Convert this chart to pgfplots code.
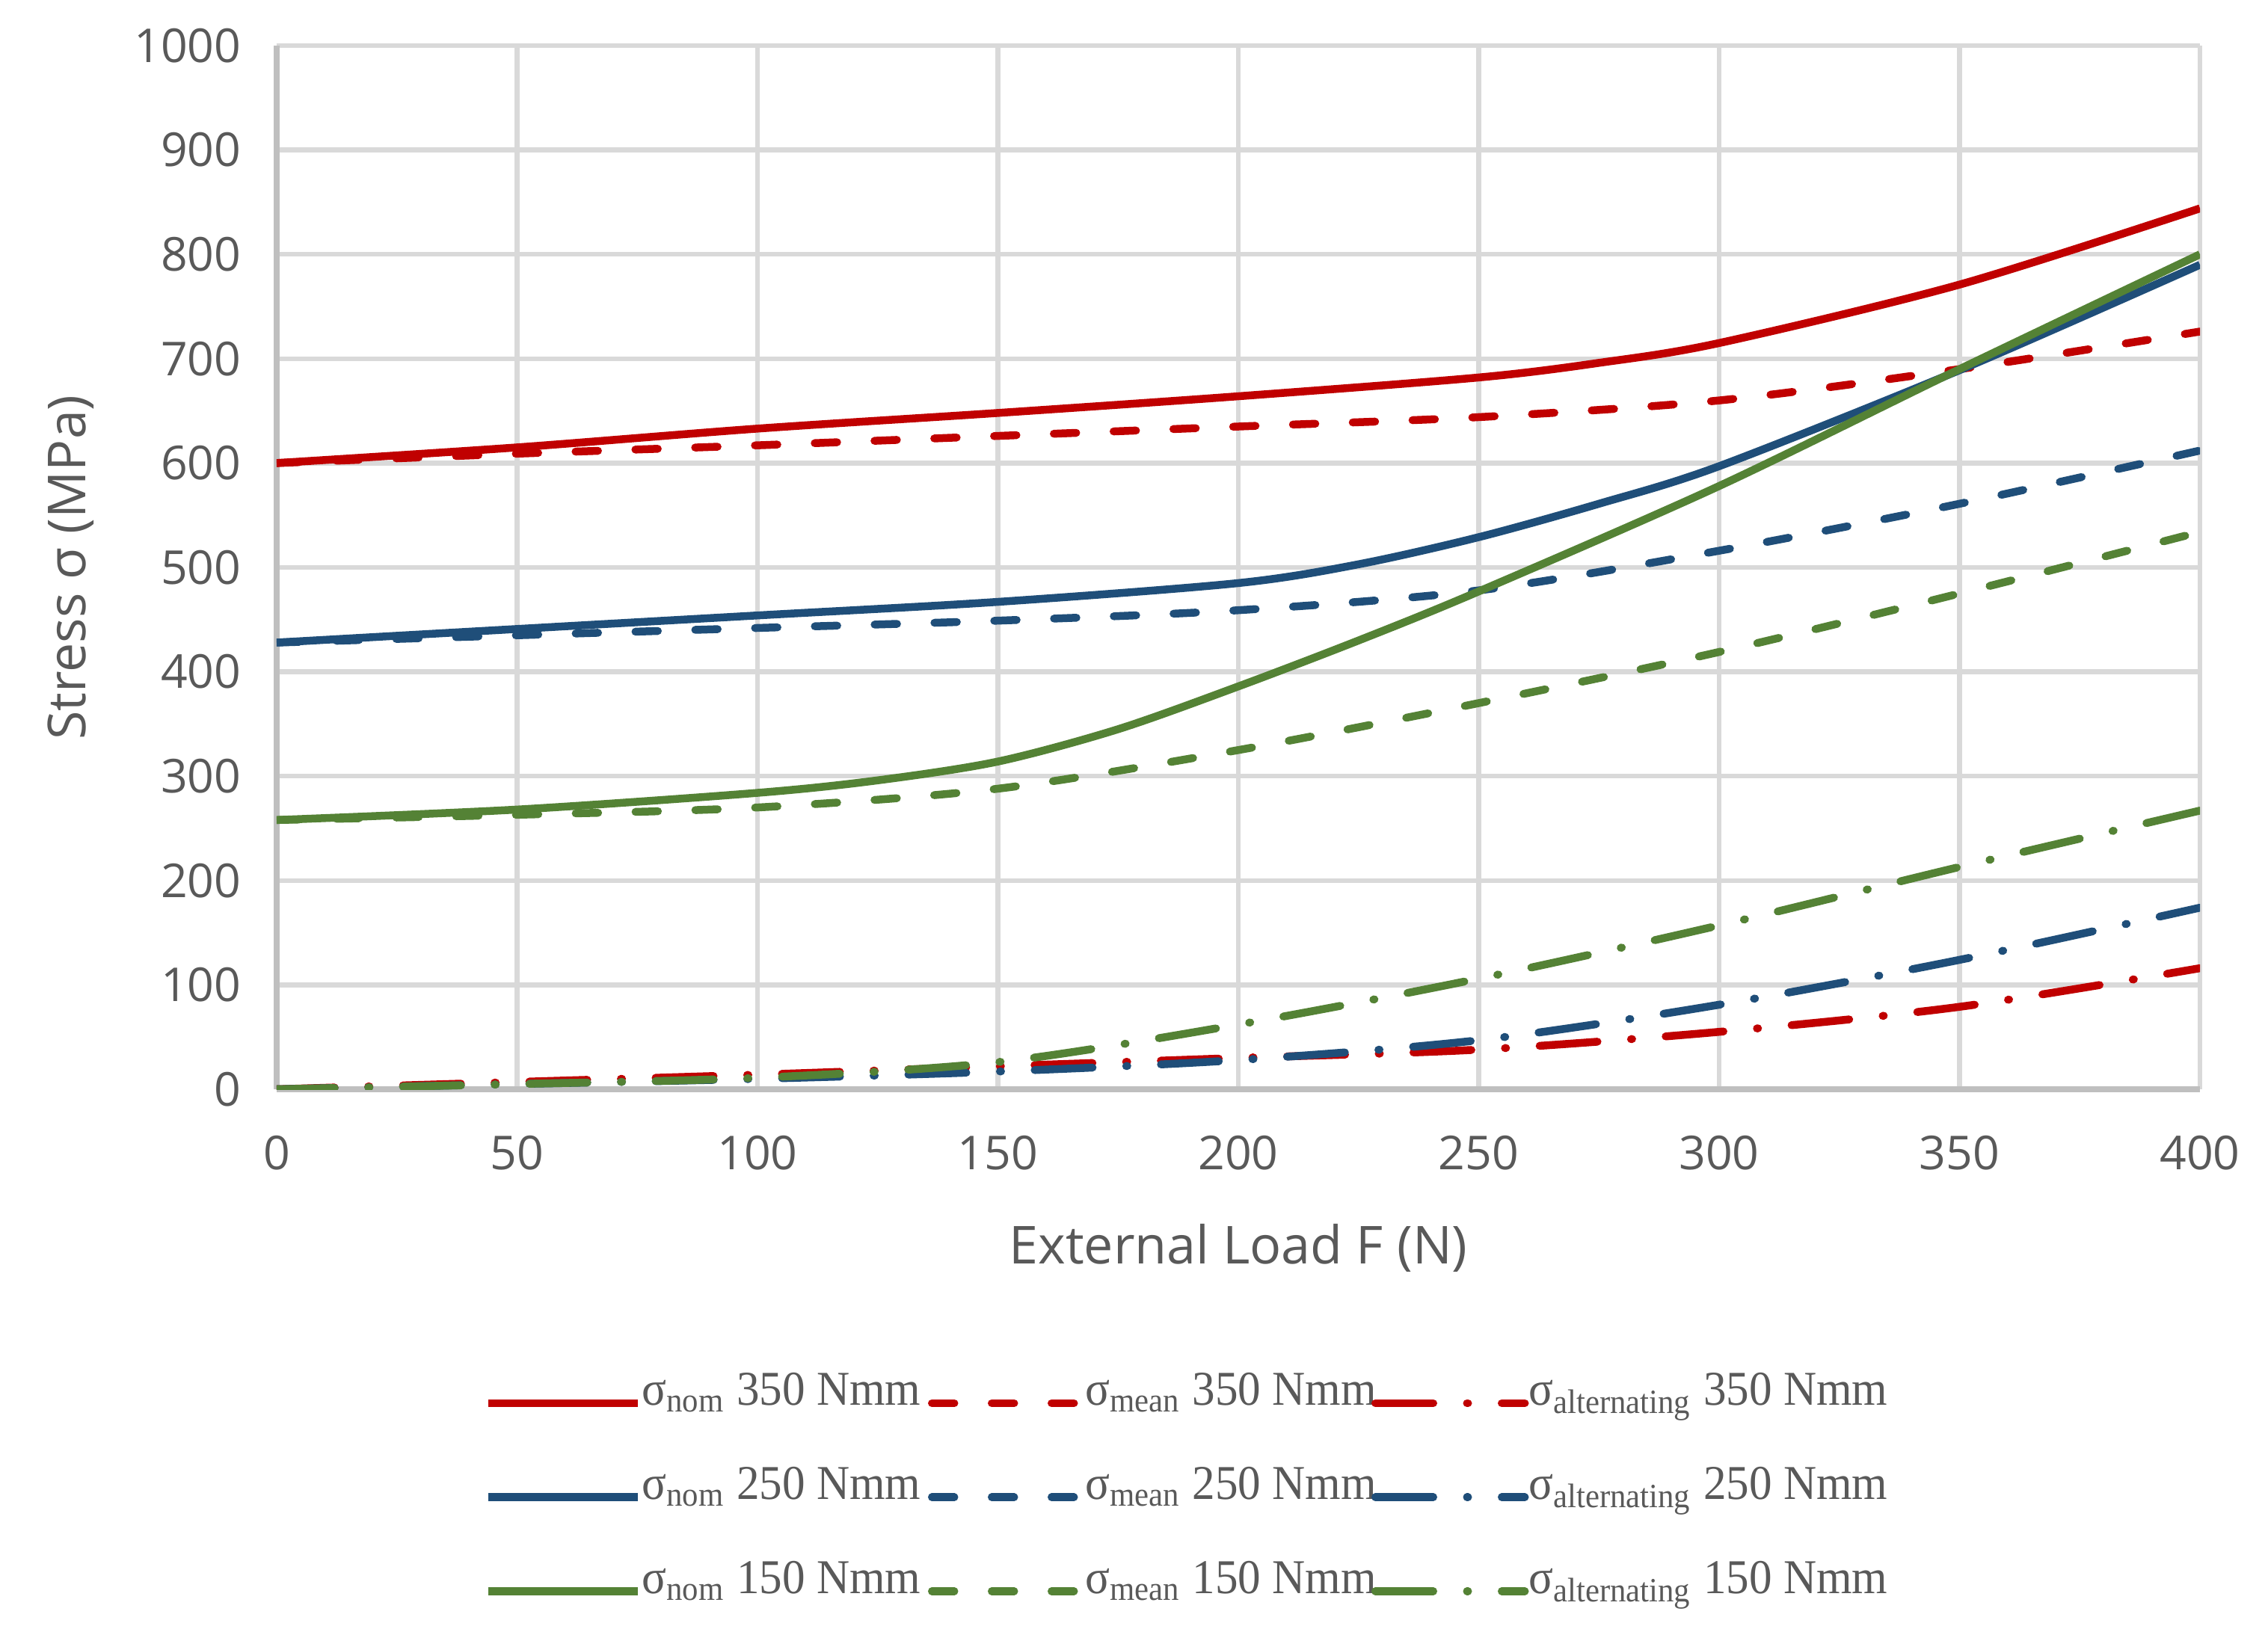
\documentclass[border=0pt]{standalone}
\usepackage{pgfplots}
\pgfplotsset{compat=1.18}
\usepackage{fontspec}
\setmainfont{Liberation Serif}[FakeStretch=0.94]
\newfontfamily\uifont{Open Sans}
\definecolor{cred}{HTML}{C00000}
\definecolor{cblue}{HTML}{1F4E79}
\definecolor{cgreen}{HTML}{548235}
\definecolor{cgrid}{HTML}{D9D9D9}
\definecolor{caxis}{HTML}{BFBFBF}
\definecolor{ctext}{HTML}{595959}
\begin{document}
\begin{tikzpicture}
\useasboundingbox (-74pt,-146.8pt) rectangle (532.6pt,291.4pt);
\begin{axis}[
  at={(0,0)}, anchor=south west,
  width=514.4pt, height=279.2pt, scale only axis,
  xmin=0, xmax=400, ymin=0, ymax=1000,
  xtick distance=50, ytick distance=100,
  grid=major, grid style={cgrid, line width=1.3pt},
  axis lines*=left, axis line style={-, caxis, line width=1.7pt},
  major tick length=0pt,
  /pgf/number format/assume math mode=true,
  /pgf/number format/1000 sep={},
  ticklabel style={font=\uifont\fontsize{12.5}{14}\selectfont, text=ctext},
  xticklabel style={yshift=-9pt},
  yticklabel style={xshift=-6pt},
  xlabel={External Load F (N)}, ylabel={Stress σ (MPa)},
  label style={font=\uifont\fontsize{14}{17}\selectfont, text=ctext},
  xlabel style={at={(axis description cs:0.5,-0.152)}, anchor=center},
  ylabel style={at={(axis description cs:-0.107,0.5)}, anchor=center},
  legend columns=3,
  legend cell align=left,
  legend style={at={(axis description cs:0.1077,-0.264)}, anchor=north west,
    draw=none, fill=none, inner sep=0pt, font=\fontsize{13}{15}\selectfont,
    text=ctext, column sep=0pt, row sep=11pt, nodes={inner xsep=0pt}},
  legend image code/.code={\draw[#1] (0pt,-3pt) -- (40pt,-3pt);},
]
% 350 Nmm (red)
\addplot[cred, line width=2.1pt, smooth] coordinates {
(0,600) (50,615) (100,633) (150,648) (200,664) (250,682) (275,696) (300,715) (350,771) (400,844)};
\addlegendentry{\makebox[76.5pt][l]{σ\textsubscript{nom} 350 Nmm}}
\addplot[cred, line width=2.1pt, smooth, line cap=round, dash pattern=on 6pt off 10pt] coordinates {
(0,600) (50,609) (100,617) (150,626) (200,635) (250,644) (300,660) (350,690) (400,726)};
\addlegendentry{\makebox[76.5pt][l]{σ\textsubscript{mean} 350 Nmm}}
\addplot[cred, line width=2.1pt, smooth, line cap=round, dash pattern=on 15.5pt off 9pt on 0.3pt off 9pt] coordinates {
(0,0) (50,7) (100,14) (150,22) (200,30) (250,38) (300,55) (350,79) (400,116)};
\addlegendentry{σ\textsubscript{alternating} 350 Nmm}
% 250 Nmm (blue)
\addplot[cblue, line width=2.1pt, smooth] coordinates {
(0,428) (50,441) (100,454) (150,467) (200,485) (225,503) (250,529) (275,561) (300,597) (350,689) (400,790)};
\addlegendentry{\makebox[76.5pt][l]{σ\textsubscript{nom} 250 Nmm}}
\addplot[cblue, line width=2.1pt, smooth, line cap=round, dash pattern=on 6pt off 10pt] coordinates {
(0,428) (50,435) (100,442) (150,449) (200,459) (250,478) (300,516) (350,561) (400,612)};
\addlegendentry{\makebox[76.5pt][l]{σ\textsubscript{mean} 250 Nmm}}
\addplot[cblue, line width=2.1pt, smooth, line cap=round, dash pattern=on 15.5pt off 9pt on 0.3pt off 9pt] coordinates {
(0,0) (50,5) (100,10) (150,17) (200,28) (250,47) (300,81) (350,124) (400,174)};
\addlegendentry{σ\textsubscript{alternating} 250 Nmm}
% 150 Nmm (green)
\addplot[cgreen, line width=2.1pt, smooth] coordinates {
(0,258) (50,268) (100,284) (125,296) (150,314) (175,345) (200,386) (225,430) (250,477) (300,578) (350,690) (400,800)};
\addlegendentry{\makebox[76.5pt][l]{σ\textsubscript{nom} 150 Nmm}}
\addplot[cgreen, line width=2.1pt, smooth, line cap=round, dash pattern=on 6pt off 10pt] coordinates {
(0,258) (50,263) (100,270) (150,288) (200,325) (250,370) (300,419) (350,475) (400,534)};
\addlegendentry{\makebox[76.5pt][l]{σ\textsubscript{mean} 150 Nmm}}
\addplot[cgreen, line width=2.1pt, smooth, line cap=round, dash pattern=on 15.5pt off 9pt on 0.3pt off 9pt] coordinates {
(0,0) (50,5) (100,11) (150,26) (200,62) (250,106) (300,157) (350,213) (400,267)};
\addlegendentry{σ\textsubscript{alternating} 150 Nmm}
\end{axis}
\end{tikzpicture}
\end{document}
